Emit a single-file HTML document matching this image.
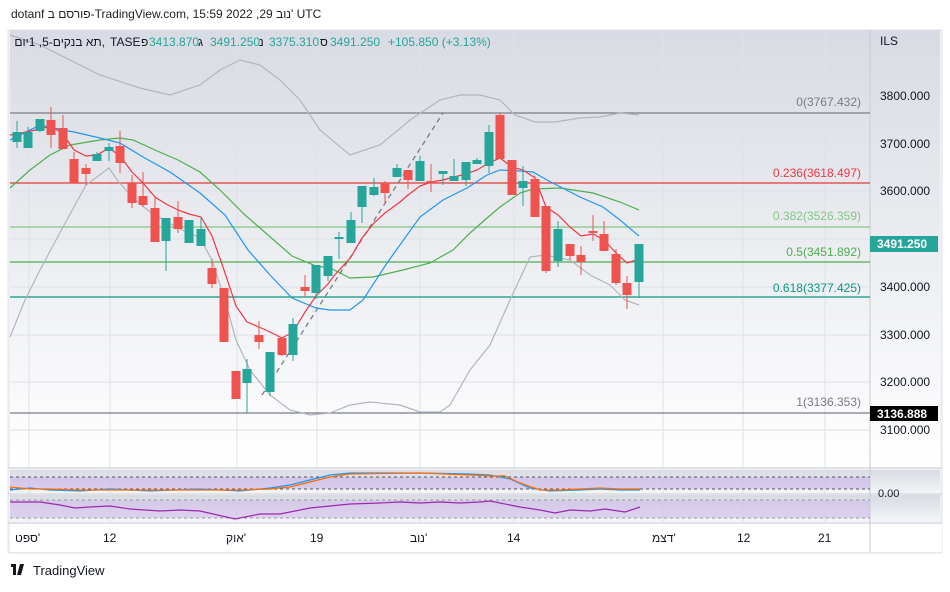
<!DOCTYPE html>
<html><head><meta charset="utf-8"><style>
body{margin:0;background:#fff;width:950px;height:587px;overflow:hidden;font-family:"Liberation Sans","Noto Sans CJK SC",sans-serif}
</style></head><body>
<svg width="950" height="587" xmlns="http://www.w3.org/2000/svg" font-family="Liberation Sans, sans-serif">
<defs>
<linearGradient id="bg" x1="0" y1="0" x2="0" y2="1"><stop offset="0" stop-color="#d8dbe3"/><stop offset="1" stop-color="#ffffff"/></linearGradient>
<linearGradient id="bg2" x1="0" y1="0" x2="0" y2="1"><stop offset="0" stop-color="#d8dbe3"/><stop offset="1" stop-color="#f4f5f8"/></linearGradient>
</defs>
<text x="11" y="18" font-size="12" fill="#222">dotanf פורסם ב-TradingView.com, 15:59 2022 ,29 נוב' UTC</text>
<rect x="8" y="30" width="934" height="523" fill="#f0f1f4" stroke="#e0e3eb"/>
<rect x="10" y="30" width="860" height="437" fill="url(#bg)"/>
<rect x="870" y="30" width="70" height="437" fill="url(#bg)"/>
<rect x="10" y="470" width="860" height="23" fill="url(#bg2)"/>
<rect x="870" y="470" width="70" height="23" fill="url(#bg2)"/>
<rect x="10" y="495" width="860" height="27" fill="url(#bg2)"/>
<rect x="870" y="495" width="70" height="27" fill="url(#bg2)"/>
<rect x="10" y="524" width="932" height="28" fill="#fff"/>
<g stroke="#dfe1e7" stroke-width="1">
<line x1="29" y1="30" x2="29" y2="522"/><line x1="110" y1="30" x2="110" y2="522"/><line x1="237" y1="30" x2="237" y2="522"/><line x1="317" y1="30" x2="317" y2="522"/><line x1="420" y1="30" x2="420" y2="522"/><line x1="514" y1="30" x2="514" y2="522"/><line x1="663" y1="30" x2="663" y2="522"/><line x1="743" y1="30" x2="743" y2="522"/><line x1="825" y1="30" x2="825" y2="522"/>
<line x1="10" y1="49" x2="870" y2="49"/><line x1="10" y1="96" x2="870" y2="96"/><line x1="10" y1="144" x2="870" y2="144"/><line x1="10" y1="191" x2="870" y2="191"/><line x1="10" y1="239" x2="870" y2="239"/><line x1="10" y1="287" x2="870" y2="287"/><line x1="10" y1="335" x2="870" y2="335"/><line x1="10" y1="382" x2="870" y2="382"/><line x1="10" y1="430" x2="870" y2="430"/>
</g>
<line x1="870" y1="30" x2="870" y2="552" stroke="#c8cad2"/>
<line x1="8" y1="468" x2="942" y2="468" stroke="#cfd2da"/>
<line x1="8" y1="494" x2="942" y2="494" stroke="#cfd2da"/>
<line x1="8" y1="523" x2="942" y2="523" stroke="#cfd2da"/>
<line x1="10" y1="113" x2="870" y2="113" stroke="#787b86" stroke-width="1.3"/>
<line x1="10" y1="183" x2="870" y2="183" stroke="#e53935" stroke-width="1.3"/>
<line x1="10" y1="227" x2="870" y2="227" stroke="#81c784" stroke-width="1.3"/>
<line x1="10" y1="262" x2="870" y2="262" stroke="#4caf50" stroke-width="1.3"/>
<line x1="10" y1="297" x2="870" y2="297" stroke="#089981" stroke-width="1.3"/>
<line x1="10" y1="413" x2="870" y2="413" stroke="#787b86" stroke-width="1.3"/>
<g font-size="12" text-anchor="end">
<text x="861" y="106" fill="#787b86">0(3767.432)</text>
<text x="861" y="177" fill="#f23645">0.236(3618.497)</text>
<text x="861" y="220" fill="#81c784">0.382(3526.359)</text>
<text x="861" y="256" fill="#4caf50">0.5(3451.892)</text>
<text x="861" y="292" fill="#089981">0.618(3377.425)</text>
<text x="861" y="406" fill="#787b86">1(3136.353)</text>
</g>
<line x1="262" y1="395" x2="443" y2="113" stroke="#787b86" stroke-width="1.3" stroke-dasharray="5,4"/>
<g fill="none" stroke="#b2b5be" stroke-width="1.2">
<polyline points="10,35 40,45 70,60 100,75 140,88 170,95 200,85 220,70 240,60 260,65 280,80 300,100 320,130 350,155 380,145 410,120 440,100 460,95 480,95 500,100 515,115 535,122 555,122 580,118 600,117 620,113 639,115"/>
<polyline points="10,337 25,300 40,270 63,227 86,185 109,168 118,181 133,198 150,212 176,227 200,238 212,260 225,300 236,340 250,370 270,395 290,410 310,415 330,413 350,405 370,402 400,405 420,412 440,412 450,405 470,370 490,345 510,300 530,257 545,255 570,260 590,275 610,285 625,300 639,305"/>
</g>
<polyline fill="none" stroke="#4caf50" stroke-width="1.2" points="10,188 30,170 50,155 70,145 100,140 120,138 133,140 155,150 178,160 200,172 220,190 245,215 260,228 292,256 316,266 330,268 350,278 373,277 403,270 430,263 453,250 470,233 487,218 500,207 520,193 533,189 560,188 593,193 620,202 639,210"/>
<polyline fill="none" stroke="#2196f3" stroke-width="1.2" points="10,140 40,125 63,130 74,132 100,138 120,143 143,157 170,172 200,193 225,215 248,250 270,275 292,298 316,308 330,310 350,310 363,300 387,263 420,217 443,200 467,188 487,175 500,170 520,171 533,172 547,180 580,197 603,207 620,220 639,236"/>
<polyline fill="none" stroke="#f23645" stroke-width="1.2" points="10,135 17,134 40,129 51,126 63,134 74,150 86,156 97,155 109,148 120,156 132,172 143,183 155,197 166,204 178,210 189,214 201,217 212,236 224,270 236,306 247,322 259,327 270,332 282,338 293,332 305,312 316,296 328,284 333,277 351,257 362,238 374,223 385,213 400,202 408,195 420,186 431,182 443,180 454,177 466,174 477,170 489,163 500,158 512,167 523,170 535,178 546,207 558,215 570,227 581,236 593,234 604,240 616,253 627,263 639,259"/>
<g id="c"></g>
<g font-size="12" fill="#131722">
<text x="880" y="45">ILS</text>
<text x="880" y="100">3800.000</text><text x="880" y="148">3700.000</text><text x="880" y="195">3600.000</text><text x="880" y="291">3400.000</text><text x="880" y="339">3300.000</text><text x="880" y="386">3200.000</text><text x="880" y="434">3100.000</text>
</g>
<rect x="870" y="236" width="68" height="16" fill="#26a69a"/>
<text x="877" y="248" font-size="12" font-weight="bold" fill="#fff">3491.250</text>
<rect x="870" y="406" width="68" height="15" fill="#000"/>
<text x="877" y="418" font-size="12" font-weight="bold" fill="#fff">3136.888</text>
<g font-size="12">
<text x="105" y="46" fill="#131722" text-anchor="end">תא בנקים-5, 1יום,</text>
<text x="110" y="46" fill="#131722">TASE</text>
<text x="141" y="46" fill="#131722">פ</text>
<text x="149" y="46" fill="#26a69a">3413.870</text>
<text x="198" y="46" fill="#131722">ג</text>
<text x="210" y="46" fill="#26a69a">3491.250</text>
<text x="259" y="46" fill="#131722">נ</text>
<text x="269" y="46" fill="#26a69a">3375.310</text>
<text x="320" y="46" fill="#131722">ס</text>
<text x="330" y="46" fill="#26a69a">3491.250</text>
<text x="388" y="46" fill="#26a69a">+105.850 (+3.13%)</text>
</g>
<rect x="10" y="477" width="860" height="12" fill="#c9b3ea" opacity="0.6"/>
<line x1="10" y1="477" x2="870" y2="477" stroke="#555" stroke-dasharray="3,3"/>
<line x1="10" y1="489" x2="870" y2="489" stroke="#555" stroke-dasharray="3,3"/>
<polyline fill="none" stroke="#2196f3" stroke-width="1.2" points="10,490 30,488 50,490 80,491 110,489 150,491 200,489 240,491 270,488 290,485 310,480 330,475 350,473 420,473 470,474 490,475 510,479 530,488 550,491 580,490 600,489 620,490 640,490"/>
<polyline fill="none" stroke="#ff6d00" stroke-width="1.2" points="10,487 30,489 50,489 80,490 110,490 150,490 200,490 240,490 270,489 290,487 310,482 330,477 350,474 420,473 470,475 490,476 505,476 520,483 540,490 560,490 600,488 620,489 640,489"/>
<text x="878" y="497" font-size="11" fill="#131722">0.00</text>
<rect x="10" y="500" width="860" height="18" fill="#c9b3ea" opacity="0.5"/>
<line x1="10" y1="500" x2="870" y2="500" stroke="#999" stroke-dasharray="3,3"/>
<line x1="10" y1="518" x2="870" y2="518" stroke="#999" stroke-dasharray="3,3"/>
<polyline fill="none" stroke="#9c27b0" stroke-width="1.2" points="10,502 40,502 60,505 75,508 90,507 110,506 130,509 160,511 180,510 200,511 235,519 260,514 280,514 310,508 330,506 350,504 380,503 400,502 420,503 440,502 460,503 480,502 490,501 510,505 520,507 540,510 555,513 570,510 590,511 605,509 625,512 640,507"/>
<g font-size="12" fill="#131722">
<text x="15" y="542">ספט'</text><text x="103" y="542">12</text><text x="226" y="542">אוק'</text><text x="310" y="542">19</text><text x="410" y="542">נוב'</text><text x="507" y="542">14</text><text x="652" y="542">דצמ'</text><text x="737" y="542">12</text><text x="818" y="542">21</text>
</g>
<rect x="11" y="564" width="5" height="3" fill="#131722"/><rect x="13" y="564" width="3" height="11" fill="#131722"/><polygon points="17,575 20,564 24,564 21,575" fill="#131722"/>
<text x="33" y="575" font-size="13" fill="#131722">TradingView</text>
</svg>
<script>
var d=[[17,132,142,121,148,1],[28,132,148,127,148,1],[40,119,131,119,132,1],[51,120,135,107,148,0],[63,128,149,115,149,0],[74,159,183,152,183,0],[86,168,174,164,185,0],[97,154,161,152,161,1],[109,147,151,143,161,1],[120,146,163,131,173,0],[132,183,203,175,208,0],[143,196,205,172,207,0],[155,208,242,197,242,0],[166,218,241,218,271,1],[178,217,229,201,233,0],[189,220,243,220,243,1],[201,229,246,217,246,1],[212,268,284,259,288,0],[224,288,342,288,342,0],[236,371,399,371,399,0],[247,369,383,359,413,1],[259,335,342,321,349,0],[270,352,392,352,396,1],[282,338,355,338,356,0],[293,324,355,318,361,1],[305,287,291,275,297,0],[316,265,293,265,299,1],[328,256,276,256,281,1],[339,237,239,232,259,1],[351,220,243,212,243,1],[362,186,207,186,223,1],[374,187,195,178,196,1],[385,183,193,181,203,0],[397,168,177,164,177,1],[408,170,180,170,189,0],[420,161,181,156,181,1],[431,181,182,164,192,0],[443,171,174,171,185,1],[454,176,181,159,181,1],[466,162,180,162,186,1],[477,160,164,158,164,1],[489,132,166,125,173,1],[500,115,159,113,159,0],[512,160,195,160,195,0],[523,181,188,166,206,1],[535,179,217,176,217,0],[546,206,271,206,273,0],[558,229,261,221,267,1],[570,244,256,244,260,0],[581,255,262,246,275,0],[593,231,233,215,241,0],[604,234,251,221,251,0],[616,254,283,249,285,0],[627,283,295,276,309,0],[639,244,282,244,298,1]];
var g=document.getElementById('c'),s='';
d.forEach(function(c){var col=c[5]?'#26a69a':'#ef5350';var h=Math.max(c[2]-c[1],2);
s+='<line x1="'+c[0]+'" y1="'+c[3]+'" x2="'+c[0]+'" y2="'+c[4]+'" stroke="'+col+'" stroke-width="1"/>';
s+='<rect x="'+(c[0]-4.5)+'" y="'+c[1]+'" width="9" height="'+h+'" fill="'+col+'"/>';});
g.innerHTML=s;
</script>
</body></html>
